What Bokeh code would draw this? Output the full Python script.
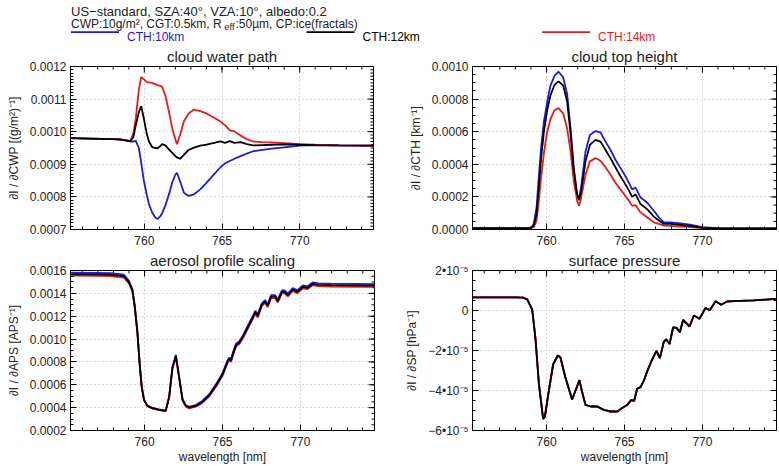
import math

from bokeh.plotting import figure
from bokeh.models import (Range1d, FixedTicker, LinearAxis, Grid,
                          PrintfTickFormatter, CustomJSTickFormatter)
from bokeh.layouts import column, row
from bokeh.embed import file_html
from bokeh.resources import INLINE
from bokeh.core.properties import value

FONT = "Liberation Sans"
TXT = "#222222"
BLUE = "#1c1cdc"
BLACK = "#000000"
RED = "#e41c1c"

# ---------------------------------------------------------------- data
# wavelength axis limits [nm]
wl_min, wl_max = 755.25, 774.75

# cloud water path sensitivity  dI/dCWP  [(g/m2)^-1]
wl_cwp = [755.25, 756.5, 758.0, 758.5, 759.1, 759.3, 759.45, 759.65, 759.8, 759.95,
          760.15, 760.3, 760.5, 760.7, 760.85, 761.05, 761.15, 761.35, 761.6, 761.8,
          762.0, 762.1, 762.3, 762.55, 762.85, 763.2, 763.6, 764.0, 764.5, 764.9,
          765.2, 765.5, 765.8, 766.2, 766.6, 767.0, 767.6, 768.2, 769.0, 770.0,
          771.0, 772.5, 774.75]
cwp_10km = [0.000980, 0.000979, 0.000977, 0.000976, 0.000970, 0.000970, 0.000972, 0.000950, 0.000905, 0.000855,
            0.000808, 0.000778, 0.000753, 0.000737, 0.000732, 0.000742, 0.000750, 0.000773, 0.000810, 0.000845,
            0.000868, 0.000874, 0.000848, 0.000813, 0.000803, 0.000808, 0.000823, 0.000843, 0.000870, 0.000891,
            0.000903, 0.000910, 0.000917, 0.000925, 0.000933, 0.000940, 0.000944, 0.000948, 0.000952, 0.000957,
            0.000959, 0.000958, 0.000957]
cwp_12km = [0.000980, 0.000979, 0.000977, 0.000976, 0.000971, 0.000984, 0.001020, 0.001060, 0.001078, 0.001045,
            0.000995, 0.000970, 0.000953, 0.000950, 0.000949, 0.000957, 0.000962, 0.000958, 0.000945, 0.000935,
            0.000925, 0.000921, 0.000917, 0.000929, 0.000944, 0.000951, 0.000957, 0.000960, 0.000966, 0.000970,
            0.000966, 0.000971, 0.000966, 0.000968, 0.000962, 0.000958, 0.000959, 0.000960, 0.000961, 0.000960,
            0.000959, 0.000958, 0.000957]
cwp_14km = [0.000980, 0.000979, 0.000977, 0.000976, 0.000972, 0.000995, 0.001040, 0.001130, 0.001167, 0.001162,
            0.001153, 0.001151, 0.001150, 0.001146, 0.001143, 0.001140, 0.001138, 0.001112, 0.001058, 0.001010,
            0.000976, 0.000962, 0.000990, 0.001032, 0.001056, 0.001068, 0.001063, 0.001056, 0.001043, 0.001031,
            0.001020, 0.001004, 0.001001, 0.000988, 0.000977, 0.000970, 0.000968, 0.000967, 0.000965, 0.000962,
            0.000960, 0.000958, 0.000957]

# cloud top height sensitivity  dI/dCTH  [km^-1]
wl_cth = [755.25, 757.0, 758.5, 759.0, 759.18, 759.36, 759.5, 759.65, 759.83, 760.04,
          760.25, 760.51, 760.77, 761.07, 761.32, 761.54, 761.75, 761.96, 762.09, 762.24,
          762.5, 762.78, 763.14, 763.46, 763.78, 764.1, 764.42, 764.74, 765.06, 765.28,
          765.49, 765.71, 766.03, 766.45, 766.88, 767.2, 767.52, 767.95, 768.59, 769.2,
          770.0, 771.0, 773.0, 774.75]
cth_10km = [0.000008, 0.000008, 0.000008, 0.000010, 0.000034, 0.000135, 0.000317, 0.000499, 0.000661, 0.000782,
            0.000883, 0.000943, 0.000968, 0.000933, 0.000832, 0.000620, 0.000378, 0.000216, 0.000186, 0.000277,
            0.000479, 0.000580, 0.000604, 0.000596, 0.000539, 0.000489, 0.000428, 0.000378, 0.000327, 0.000287,
            0.000246, 0.000257, 0.000196, 0.000166, 0.000115, 0.000075, 0.000044, 0.000044, 0.000038, 0.000030,
            0.000014, 0.000008, 0.000007, 0.000006]
cth_12km = [0.000008, 0.000008, 0.000008, 0.000010, 0.000024, 0.000095, 0.000257, 0.000438, 0.000600, 0.000731,
            0.000822, 0.000887, 0.000909, 0.000883, 0.000786, 0.000590, 0.000358, 0.000216, 0.000180, 0.000246,
            0.000418, 0.000519, 0.000550, 0.000539, 0.000489, 0.000438, 0.000382, 0.000327, 0.000277, 0.000240,
            0.000200, 0.000216, 0.000156, 0.000125, 0.000079, 0.000055, 0.000034, 0.000034, 0.000028, 0.000022,
            0.000010, 0.000007, 0.000006, 0.000006]
cth_14km = [0.000008, 0.000008, 0.000008, 0.000009, 0.000014, 0.000055, 0.000176, 0.000317, 0.000469, 0.000600,
            0.000677, 0.000731, 0.000745, 0.000711, 0.000620, 0.000479, 0.000297, 0.000176, 0.000145, 0.000206,
            0.000337, 0.000418, 0.000438, 0.000422, 0.000382, 0.000337, 0.000287, 0.000246, 0.000206, 0.000176,
            0.000145, 0.000150, 0.000105, 0.000075, 0.000044, 0.000034, 0.000024, 0.000022, 0.000018, 0.000014,
            0.000008, 0.000006, 0.000005, 0.000005]

# aerosol profile scaling sensitivity  dI/dAPS  [APS^-1]
wl_aps = [755.25, 757.0, 757.82, 758.68, 759.0, 759.22, 759.37, 759.54, 759.69, 759.82,
          759.97, 760.18, 760.51, 760.93, 761.36, 761.58, 761.79, 762.01, 762.22, 762.44,
          762.65, 762.86, 763.29, 763.72, 764.15, 764.58, 765.01, 765.33, 765.44, 765.55,
          765.65, 765.87, 766.08, 766.3, 766.62, 766.94, 767.11, 767.26, 767.52, 767.73,
          767.9, 768.12, 768.38, 768.55, 768.81, 768.98, 769.19, 769.51, 769.79, 770.16,
          770.44, 770.8, 771.12, 771.98, 773.5, 774.75]
aps_10km = [0.001582, 0.001580, 0.001576, 0.001563, 0.001510, 0.001437, 0.001295, 0.001068, 0.000784, 0.000584,
            0.000470, 0.000418, 0.000398, 0.000384, 0.000375, 0.000500, 0.000757, 0.000862, 0.000670, 0.000472,
            0.000421, 0.000408, 0.000423, 0.000461, 0.000518, 0.000604, 0.000704, 0.000817, 0.000838, 0.000824,
            0.000875, 0.000960, 0.000982, 0.001030, 0.001115, 0.001200, 0.001248, 0.001214, 0.001313, 0.001341,
            0.001305, 0.001384, 0.001384, 0.001345, 0.001426, 0.001426, 0.001398, 0.001446, 0.001426, 0.001469,
            0.001460, 0.001497, 0.001488, 0.001485, 0.001483, 0.001481]
aps_12km = [0.001568, 0.001566, 0.001562, 0.001550, 0.001498, 0.001427, 0.001286, 0.001060, 0.000777, 0.000579,
            0.000466, 0.000415, 0.000395, 0.000381, 0.000372, 0.000494, 0.000749, 0.000850, 0.000664, 0.000466,
            0.000415, 0.000401, 0.000415, 0.000452, 0.000508, 0.000593, 0.000692, 0.000805, 0.000825, 0.000811,
            0.000862, 0.000947, 0.000969, 0.001017, 0.001102, 0.001187, 0.001235, 0.001201, 0.001300, 0.001328,
            0.001292, 0.001371, 0.001371, 0.001332, 0.001413, 0.001413, 0.001385, 0.001433, 0.001413, 0.001456,
            0.001447, 0.001484, 0.001475, 0.001472, 0.001470, 0.001468]
aps_14km = [0.001556, 0.001554, 0.001550, 0.001538, 0.001488, 0.001418, 0.001278, 0.001053, 0.000771, 0.000574,
            0.000462, 0.000412, 0.000392, 0.000378, 0.000370, 0.000490, 0.000743, 0.000842, 0.000658, 0.000461,
            0.000409, 0.000394, 0.000408, 0.000444, 0.000499, 0.000583, 0.000681, 0.000794, 0.000814, 0.000800,
            0.000850, 0.000935, 0.000957, 0.001005, 0.001090, 0.001175, 0.001223, 0.001189, 0.001288, 0.001316,
            0.001280, 0.001359, 0.001359, 0.001320, 0.001401, 0.001401, 0.001373, 0.001421, 0.001401, 0.001444,
            0.001436, 0.001472, 0.001463, 0.001460, 0.001458, 0.001456]

# surface pressure sensitivity  dI/dSP  [hPa^-1]; the three cloud-top
# heights coincide at this scale, so one curve serves all of them
wl_sp = [755.25, 757.05, 758.0, 758.5, 758.76, 759.08, 759.29, 759.51, 759.78, 759.89,
         760.15, 760.42, 760.72, 760.89, 761.21, 761.64, 762.11, 762.28, 762.5, 762.82,
         763.25, 763.67, 764.1, 764.53, 764.85, 765.17, 765.43, 765.62, 765.81, 766.03,
         766.24, 766.46, 766.77, 767.05, 767.27, 767.52, 767.67, 767.89, 768.12, 768.34,
         768.55, 768.76, 769.17, 769.45, 769.81, 770.2, 770.47, 770.84, 771.2, 771.58,
         772.0, 773.3, 774.75]
sp_all = [6.6e-6, 6.6e-6, 6.6e-6, 6.4e-6, 5.6e-6, 0.4e-6, -1.41e-5, -3.67e-5, -5.42e-5, -5.32e-5,
          -4.00e-5, -2.70e-5, -2.25e-5, -2.35e-5, -3.35e-5, -4.45e-5, -3.48e-5, -4.08e-5, -4.72e-5, -4.80e-5,
          -4.80e-5, -4.97e-5, -5.05e-5, -5.05e-5, -4.88e-5, -4.72e-5, -4.48e-5, -4.52e-5, -3.91e-5, -3.83e-5,
          -3.51e-5, -3.03e-5, -2.46e-5, -2.02e-5, -2.38e-5, -1.57e-5, -1.44e-5, -1.68e-5, -8.4e-6, -8.7e-6,
          -1.09e-5, -4.7e-6, -8.0e-6, -2.5e-6, -4.1e-6, 1.25e-6, 0.1e-6, 4.65e-6, 2.9e-6, 4.5e-6,
          4.65e-6, 5.1e-6, 5.8e-6]

series_labels = ["CTH:10km", "CTH:12km", "CTH:14km"]
x_major = [760, 765, 770]
x_minor = list(range(756, 775))


# ---------------------------------------------------------------- helpers
def style_axis(ax):
    ax.axis_line_color = "black"
    ax.major_tick_line_color = "black"
    ax.minor_tick_line_color = "black"
    ax.major_tick_in = 6
    ax.major_tick_out = 0
    ax.minor_tick_in = 3
    ax.minor_tick_out = 0
    ax.major_label_text_font = FONT
    ax.major_label_text_font_size = "12px"
    ax.major_label_text_color = TXT
    ax.axis_label_text_font = FONT
    ax.axis_label_text_font_size = "12px"
    ax.axis_label_text_font_style = "normal"
    ax.axis_label_text_color = TXT


def mirror_ticks(p, y_major, y_minor, y_top):
    # inward ticks along the top and right edges of the frame; the dash
    # markers sit on the frame edge and the frame clips the outer half
    tick = dict(marker="dash", line_color="black", line_width=1)
    p.scatter(x_minor, [y_top] * len(x_minor), angle=math.pi / 2, size=6, **tick)
    p.scatter(x_major, [y_top] * len(x_major), angle=math.pi / 2, size=12, **tick)
    p.scatter([wl_max] * len(y_minor), y_minor, size=6, **tick)
    p.scatter([wl_max] * len(y_major), y_major, size=12, **tick)


def panel(w, h, borders, title, ylabel, yrange, yticks, yminor, yformatter, xlabel=None):
    left, right, top, bottom = borders
    p = figure(width=w, height=h, output_backend="svg", toolbar_location=None,
               x_range=Range1d(wl_min, wl_max), y_range=Range1d(*yrange),
               x_axis_type=None, y_axis_type=None,
               min_border_left=left, min_border_right=right,
               min_border_top=top, min_border_bottom=bottom)
    p.outline_line_color = "black"
    p.background_fill_color = "white"
    p.border_fill_color = "white"

    xt = FixedTicker(ticks=x_major, minor_ticks=x_minor)
    yt = FixedTicker(ticks=yticks, minor_ticks=yminor)

    xb = LinearAxis(ticker=xt, axis_label=xlabel)
    style_axis(xb)
    xb.major_label_standoff = 6
    xb.axis_label_standoff = 1
    p.add_layout(xb, "below")

    yl = LinearAxis(ticker=yt, formatter=yformatter, axis_label=ylabel)
    style_axis(yl)
    yl.major_label_standoff = 4
    yl.axis_label_standoff = 6
    p.add_layout(yl, "left")

    for dim, tk in ((0, xt), (1, yt)):
        g = Grid(dimension=dim, ticker=tk, grid_line_color="#b4b4b4",
                 grid_line_dash="1 3", grid_line_width=1)
        p.add_layout(g)

    mirror_ticks(p, yticks, yminor, yrange[1])

    p.title.text = title
    p.title.align = "center"
    p.title.text_font = FONT
    p.title.text_font_size = "15px"
    p.title.text_font_style = "normal"
    p.title.text_color = TXT
    p.title.standoff = 3
    return p


def draw(p, wl, blue, red, black):
    p.line(wl, blue, line_color=BLUE, line_width=1.8)
    p.line(wl, red, line_color=RED, line_width=1.8)
    p.line(wl, black, line_color=BLACK, line_width=1.8)


def minor_list(start, step, n):
    return [round(start + i * step, 9) for i in range(n)]


# ---------------------------------------------------------------- panels
p_cwp = panel(390, 204, (70, 17, 20, 19), "cloud water path",
              "\u2202I / \u2202CWP [(g/m\u00b2)\u207b\u00b9]", (0.0007, 0.0012),
              [0.0007, 0.0008, 0.0009, 0.0010, 0.0011, 0.0012],
              minor_list(0.0007, 0.00001, 51), PrintfTickFormatter(format="%.4f"))
draw(p_cwp, wl_cwp, cwp_10km, cwp_14km, cwp_12km)

p_cth = panel(389, 204, (82, 3, 20, 19), "cloud top height",
              "\u2202I / \u2202CTH [km\u207b\u00b9]", (0.0, 0.001),
              [0.0, 0.0002, 0.0004, 0.0006, 0.0008, 0.0010],
              minor_list(0.0, 0.00005, 21), PrintfTickFormatter(format="%.4f"))
draw(p_cth, wl_cth, cth_10km, cth_14km, cth_12km)

p_aps = panel(390, 218, (70, 16, 20, 33), "aerosol profile scaling",
              "\u2202I / \u2202APS [APS\u207b\u00b9]", (0.0002, 0.0016),
              [0.0002, 0.0004, 0.0006, 0.0008, 0.0010, 0.0012, 0.0014, 0.0016],
              minor_list(0.0002, 0.00005, 29), PrintfTickFormatter(format="%.4f"),
              xlabel="wavelength [nm]")
draw(p_aps, wl_aps, aps_10km, aps_14km, aps_12km)

sp_fmt = CustomJSTickFormatter(code="""
    const m = Math.round(tick * 1e5);
    if (m === 0) { return "0"; }
    return (m < 0 ? "\\u2212" : "") + Math.abs(m) + "\\u2022" + "10\\u207b\\u2075";
""")
p_sp = panel(389, 218, (82, 3, 20, 33), "surface pressure",
             "\u2202I / \u2202SP [hPa\u207b\u00b9]", (-6e-5, 2e-5),
             [-6e-5, -4e-5, -2e-5, 0.0, 2e-5],
             minor_list(-6e-5, 5e-6, 17), sp_fmt, xlabel="wavelength [nm]")
draw(p_sp, wl_sp, sp_all, sp_all, sp_all)

# ---------------------------------------------------------------- header
hdr = figure(width=779, height=44, output_backend="svg", toolbar_location=None,
             x_range=Range1d(0, 779), y_range=Range1d(44, 0),
             x_axis_type=None, y_axis_type=None,
             min_border_left=0, min_border_right=0, min_border_top=0, min_border_bottom=0)
hdr.outline_line_color = None
hdr.xgrid.visible = False
hdr.ygrid.visible = False

hdr.text(x=[70.5], y=[10.5],
         text=["US\u2212standard, SZA:40\u00b0, VZA:10\u00b0, albedo:0.2"],
         text_font=value(FONT), text_font_size=value("13px"),
         text_color=TXT, text_baseline="alphabetic", text_align="left")
# second line: the effective radius carries a lowered "eff" subscript
hdr.text(x=[70.5, 235.0], y=[23.0, 23.0],
         text=["CWP:10g/m\u00b2, CGT:0.5km, R", ":50\u00b5m, CP:ice(fractals)"],
         text_font=value(FONT), text_font_size=value("12px"),
         text_color=TXT, text_baseline="alphabetic", text_align="left")
hdr.text(x=[223.8], y=[26.0], text=["eff"],
         text_font=value(FONT), text_font_size=value("9.5px"),
         text_color=TXT, text_baseline="alphabetic", text_align="left")

leg_x0 = [70.5, 306.0, 541.5]
leg_colors = [BLUE, BLACK, RED]
hdr.segment(x0=leg_x0, y0=[31.7] * 3, x1=[x + 48 for x in leg_x0], y1=[31.7] * 3,
            line_color=leg_colors, line_width=1.8)
hdr.text(x=[x + 56 for x in leg_x0], y=[36.0] * 3, text=series_labels,
         text_font=value(FONT), text_font_size=value("12px"),
         text_color=leg_colors, text_baseline="alphabetic", text_align="left")

layout = column(hdr, row(p_cwp, p_cth), row(p_aps, p_sp))

with open("out.html", "w") as f:
    f.write(file_html(layout, INLINE))
